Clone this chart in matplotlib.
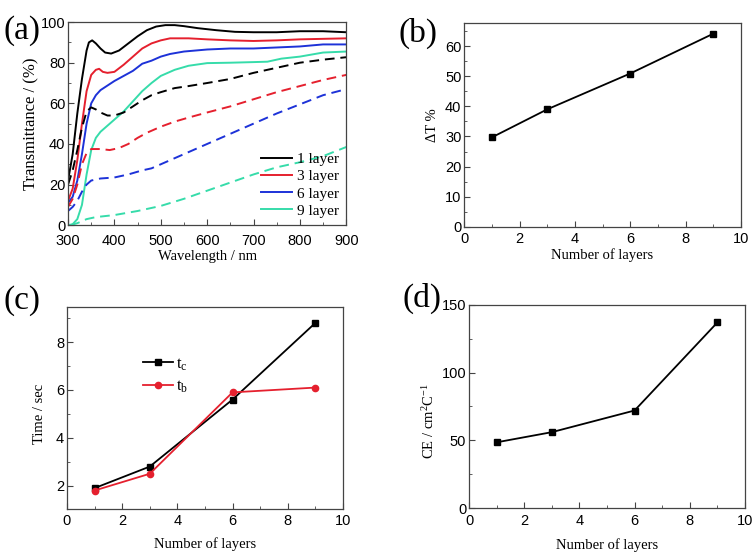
import matplotlib.pyplot as plt
from matplotlib.ticker import MultipleLocator

# (a) transmittance spectra, solid = bleached, dashed = coloured
wl_black = [300, 310, 320, 330, 340, 345, 352, 360, 370, 380, 393, 410, 430, 450, 470, 490, 510, 530, 550, 580, 620, 660, 700, 750, 800, 850, 900]
t1_solid = [22, 35, 55, 72, 86, 90, 91, 89.5, 87, 85, 84.5, 86, 89.5, 93, 96, 97.8, 98.5, 98.5, 98, 97, 96, 95.2, 95, 95, 95.5, 95.5, 95]
wl_red = [300, 310, 320, 330, 340, 350, 360, 367, 375, 385, 400, 420, 440, 460, 480, 500, 520, 560, 600, 650, 700, 750, 800, 900]
t3_solid = [12, 18, 32, 50, 66, 74, 76.5, 77, 75.5, 75, 75.5, 79, 83, 87, 89.5, 91, 92, 92, 91.5, 91, 90.7, 91, 91.5, 92]
wl_blue = [300, 310, 320, 330, 340, 350, 360, 370, 380, 400, 420, 440, 460, 480, 500, 520, 550, 600, 650, 700, 750, 800, 850, 900]
t6_solid = [11, 14, 22, 35, 50, 60, 64, 66.5, 68, 71, 73.5, 76, 79.5, 81, 83, 84.3, 85.5, 86.5, 87, 87, 87.5, 88, 89, 89]
wl_cyan = [300, 310, 320, 330, 340, 350, 360, 370, 380, 400, 420, 440, 460, 480, 500, 530, 560, 600, 650, 700, 730, 760, 800, 850, 900]
t9_solid = [0, 0.5, 3, 10, 25, 37, 43, 46, 48, 52, 56, 61, 66, 70, 73.5, 76.5, 78.5, 79.8, 80, 80.3, 80.5, 82, 83, 85, 85.5]

wl_d1 = [300, 310, 320, 330, 340, 350, 360, 370, 385, 400, 420, 440, 460, 480, 500, 530, 560, 600, 650, 700, 750, 800, 850, 900]
t1_dash = [20, 27, 37, 48, 56, 58, 57, 55.5, 54, 54, 55.5, 58.5, 61.5, 64, 65.5, 67.5, 68.5, 70, 72, 75, 77.5, 80, 81.5, 82.7]
wl_d3 = [300, 310, 320, 330, 340, 350, 370, 390, 410, 430, 450, 470, 500, 530, 560, 600, 650, 700, 750, 800, 850, 900]
t3_dash = [9, 13, 20, 30, 35.5, 37.5, 37.5, 37, 38, 40, 43, 45.5, 48.5, 51, 53, 55.5, 58.5, 62, 65.5, 68.5, 71.5, 74]
wl_d6 = [300, 310, 320, 330, 340, 350, 370, 400, 430, 460, 480, 500, 530, 560, 600, 650, 700, 750, 800, 850, 900]
t6_dash = [7, 9, 12, 16.5, 20, 22, 23, 23.5, 25, 27, 28, 30, 33, 36, 40, 45, 50, 55, 59.5, 64, 67]
wl_d9 = [305, 320, 340, 360, 400, 450, 500, 550, 600, 650, 700, 750, 800, 850, 900]
t9_dash = [0, 1, 3, 4, 5, 7, 9.5, 13, 17, 21, 25, 28.5, 31, 34, 38.5]

# (b)-(d)
layers = [1, 3, 6, 9]
delta_t = [29.7, 39, 50.9, 64.1]
t_c = [1.9, 2.8, 5.6, 8.8]
t_b = [1.8, 2.5, 5.9, 6.1]
ce = [48.5, 56, 72, 137]

BLACK = 'black'
RED = '#e5202e'
BLUE = '#1d32d8'
CYAN = '#36dcaa'

serif = 'Liberation Serif'
sans = 'Liberation Sans'
plt.rcParams['font.family'] = sans
plt.rcParams['mathtext.fontset'] = 'custom'
plt.rcParams['mathtext.rm'] = serif
plt.rcParams['mathtext.it'] = serif


def style_axes(ax):
    for s in ax.spines.values():
        s.set_color('#444444')
        s.set_linewidth(0.9)
    ax.tick_params(which='both', direction='in', top=False, right=False,
                   labelsize=10.5, pad=2, color='#444444')
    ax.tick_params(axis='x', pad=4)
    ax.tick_params(which='major', length=4)
    ax.tick_params(which='minor', length=2)


fig = plt.figure(figsize=(7.56, 5.52), dpi=100)

# ---- (a)
ax = fig.add_axes([0.090, 0.592, 0.368, 0.368])
ax.plot(wl_black, t1_solid, color=BLACK, lw=1.4, label='1 layer')
ax.plot(wl_red, t3_solid, color=RED, lw=1.4, label='3 layer')
ax.plot(wl_blue, t6_solid, color=BLUE, lw=1.4, label='6 layer')
ax.plot(wl_cyan, t9_solid, color=CYAN, lw=1.4, label='9 layer')
ax.plot(wl_d1, t1_dash, color=BLACK, lw=1.4, ls=(0, (5, 3)))
ax.plot(wl_d3, t3_dash, color=RED, lw=1.4, ls=(0, (5, 3)))
ax.plot(wl_d6, t6_dash, color=BLUE, lw=1.4, ls=(0, (5, 3)))
ax.plot(wl_d9, t9_dash, color=CYAN, lw=1.4, ls=(0, (5, 3)))
ax.set_xlim(300, 900)
ax.set_ylim(0, 100)
ax.xaxis.set_major_locator(MultipleLocator(100))
ax.xaxis.set_minor_locator(MultipleLocator(50))
ax.yaxis.set_major_locator(MultipleLocator(20))
ax.yaxis.set_minor_locator(MultipleLocator(10))
ax.set_xlabel('Wavelength / nm', family=serif, fontsize=10.5, labelpad=2)
ax.set_ylabel('Transmittance / (%)', family=serif, fontsize=12, labelpad=1)
style_axes(ax)
ax.tick_params(axis='x', pad=6)
ax.legend(loc='lower right', frameon=False, prop={'family': serif, 'size': 11},
          handlelength=2.0, handletextpad=0.3, labelspacing=0.22,
          borderaxespad=0.1)
fig.text(0.005, 0.945, '(a)', family=serif, fontsize=24, va='center')

# ---- (b)
ax = fig.add_axes([0.614, 0.589, 0.366, 0.369])
ax.plot(layers, delta_t, color=BLACK, lw=1.3, marker='s', ms=4.5)
ax.set_xlim(0, 10)
ax.set_ylim(0, 67.6)
ax.xaxis.set_major_locator(MultipleLocator(2))
ax.xaxis.set_minor_locator(MultipleLocator(1))
ax.yaxis.set_major_locator(MultipleLocator(10))
ax.yaxis.set_minor_locator(MultipleLocator(5))
ax.set_xlabel('Number of layers', family=serif, fontsize=10.5, labelpad=1)
ax.set_ylabel('ΔT %', family=serif, fontsize=10.5, labelpad=4)
style_axes(ax)
fig.text(0.527, 0.94, '(b)', family=serif, fontsize=24, va='center')

# ---- (c)
ax = fig.add_axes([0.0886, 0.078, 0.365, 0.366])
ax.plot(layers, t_c, color=BLACK, lw=1.3, marker='s', ms=4.5, label='$\\mathregular{t_c}$')
ax.plot(layers, t_b, color=RED, lw=1.3, marker='o', ms=4.5, label='$\\mathregular{t_b}$')
ax.set_xlim(0, 10)
ax.set_ylim(1.03, 9.47)
ax.xaxis.set_major_locator(MultipleLocator(2))
ax.xaxis.set_minor_locator(MultipleLocator(1))
ax.yaxis.set_major_locator(MultipleLocator(2))
ax.yaxis.set_minor_locator(MultipleLocator(1))
ax.set_xlabel('Number of layers', family=serif, fontsize=10.5, labelpad=6)
ax.set_ylabel('Time / sec', family=serif, fontsize=10.5)
ax.yaxis.set_label_coords(-0.075, 0.47)
style_axes(ax)
ax.legend(loc='upper left', bbox_to_anchor=(0.22, 0.83), frameon=False,
          prop={'family': serif, 'size': 12}, handlelength=1.8,
          handletextpad=0.2, labelspacing=0.35)
fig.text(0.005, 0.455, '(c)', family=serif, fontsize=24, va='center')

# ---- (d)
ax = fig.add_axes([0.6204, 0.0797, 0.365, 0.368])
ax.plot(layers, ce, color=BLACK, lw=1.3, marker='s', ms=4.5)
ax.set_xlim(0, 10)
ax.set_ylim(0, 150)
ax.xaxis.set_major_locator(MultipleLocator(2))
ax.xaxis.set_minor_locator(MultipleLocator(1))
ax.yaxis.set_major_locator(MultipleLocator(50))
ax.yaxis.set_minor_locator(MultipleLocator(25))
ax.set_xlabel('Number of layers', family=serif, fontsize=10.5, labelpad=8)
ax.set_ylabel('CE / cm$^2$C$^{-1}$', family=serif, fontsize=10.5)
ax.yaxis.set_label_coords(-0.116, 0.43)
style_axes(ax)
fig.text(0.532, 0.46, '(d)', family=serif, fontsize=24, va='center')

fig.savefig('out.png', dpi=100)
